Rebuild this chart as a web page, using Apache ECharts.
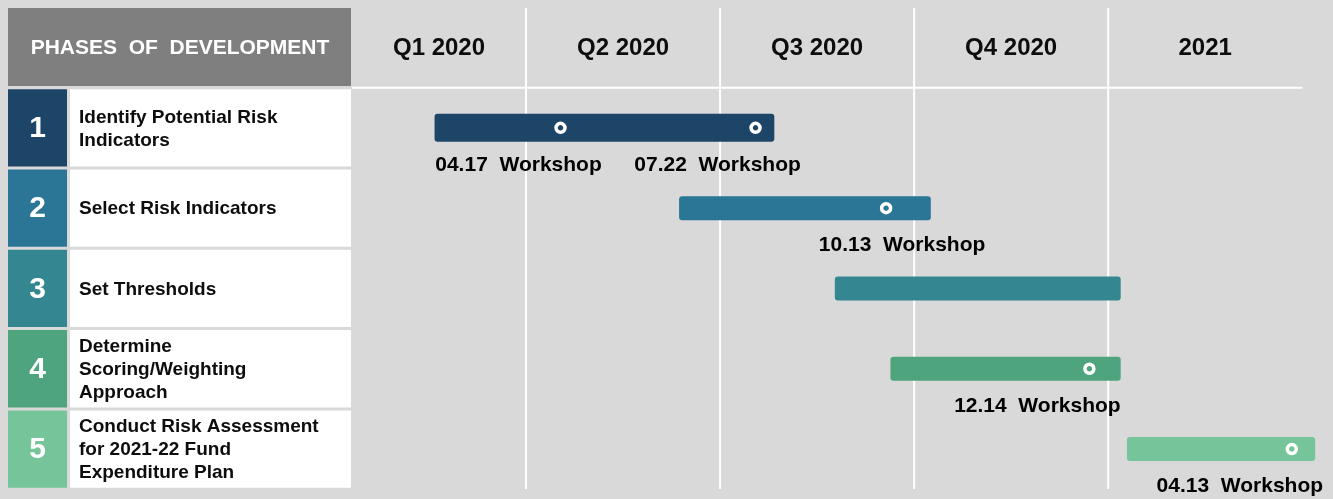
<!DOCTYPE html>
<html>
<head>
<meta charset="utf-8">
<title>Phases of Development</title>
<script src="https://cdn.jsdelivr.net/npm/echarts@6/dist/echarts.min.js"></script>
<style>
html, body { margin: 0; padding: 0; background: #d9d9d9; }
#container { width: 1333px; height: 499px; }
</style>
</head>
<body>
<div id="container"></div>
<script>
// ---- data ----
var phaseNumbers = ['1', '2', '3', '4', '5'];
var phaseNames = [
    'Identify Potential Risk\nIndicators',
    'Select Risk Indicators',
    'Set Thresholds',
    'Determine\nScoring/Weighting\nApproach',
    'Conduct Risk Assessment\nfor 2021-22 Fund\nExpenditure Plan'
];
var periodLabels = ['Q1 2020', 'Q2 2020', 'Q3 2020', 'Q4 2020', '2021'];
var periodBounds = ['2020-01-01', '2020-04-01', '2020-07-01', '2020-10-01', '2021-01-01', '2021-04-01'];
var taskStart = ['2020-02-18', '2020-06-12', '2020-08-25', '2020-09-20', '2021-01-10'];
var taskEnd = ['2020-07-27', '2020-10-09', '2021-01-07', '2021-01-07', '2021-04-07'];
var milestonePhase = [0, 0, 1, 3, 4];
var milestoneDate = ['2020-04-17', '2020-07-18', '2020-09-18', '2020-12-23', '2021-03-27'];
var milestoneText = ['04.17  Workshop', '07.22  Workshop', '10.13  Workshop', '12.14  Workshop', '04.13  Workshop'];

// ---- styling ----
var phaseColors = ['#1d4568', '#2b7697', '#348791', '#4ea47c', '#76c59a'];
var labelShift = [-42, -38, 16, -52, -52];
var FONT = '"Liberation Sans", Arial, sans-serif';

// months since Jan 2020, fractional inside a month
function toMonth(s) {
    var p = s.split('-').map(Number);
    var dim = new Date(p[0], p[1], 0).getDate();
    return (p[0] - 2020) * 12 + (p[1] - 1) + (p[2] - 1) / dim;
}

var xMin = 0.31, xMax = 15.46;
var gridTop = 87.7, gridHeight = 401.5;

var chart = echarts.init(document.getElementById('container'), null, { renderer: 'canvas' });

var option = {
    backgroundColor: '#d9d9d9',
    animation: false,
    textStyle: { fontFamily: FONT },
    grid: [
        { left: 8, width: 343, top: gridTop, height: gridHeight },
        { left: 352, right: 1, top: gridTop, height: gridHeight }
    ],
    xAxis: [
        { gridIndex: 0, type: 'value', min: 0, max: 1, show: false },
        { gridIndex: 1, type: 'value', min: xMin, max: xMax, show: false }
    ],
    yAxis: [
        { gridIndex: 0, type: 'category', data: phaseNumbers, inverse: true, show: false },
        { gridIndex: 1, type: 'category', data: phaseNumbers, inverse: true, show: false }
    ],
    graphic: [
        { type: 'rect', left: 8, top: 8, shape: { width: 343, height: 78 }, style: { fill: '#7f7f7f' } },
        {
            type: 'text', x: 180, y: 48,
            style: {
                text: 'PHASES  OF  DEVELOPMENT', fill: '#ffffff',
                font: 'bold 21px ' + FONT, textAlign: 'center', textVerticalAlign: 'middle',
                align: 'center', verticalAlign: 'middle'
            }
        }
    ],
    series: [
        // left table of phases
        {
            type: 'custom',
            xAxisIndex: 0, yAxisIndex: 0,
            encode: { x: 0, y: 1 },
            data: phaseNames.map(function (n, i) { return [0, i]; }),
            renderItem: function (params, api) {
                var i = api.value(1);
                var band = api.size([0, 1])[1];
                var a = api.coord([0, i]);
                var b = api.coord([1, i]);
                var top = a[1] - band / 2 + 1.5;
                var h = band - 3;
                return {
                    type: 'group',
                    children: [
                        { type: 'rect', shape: { x: a[0], y: top, width: 59, height: h }, style: { fill: phaseColors[i] } },
                        { type: 'rect', shape: { x: a[0] + 62, y: top, width: b[0] - a[0] - 62, height: h }, style: { fill: '#ffffff' } },
                        {
                            type: 'text', x: a[0] + 29.5, y: a[1] + 1,
                            style: {
                                text: phaseNumbers[i], fill: '#ffffff', font: 'bold 30px ' + FONT,
                                textAlign: 'center', textVerticalAlign: 'middle', align: 'center', verticalAlign: 'middle'
                            }
                        },
                        {
                            type: 'text', x: a[0] + 71, y: a[1] + 1,
                            style: {
                                text: phaseNames[i], fill: '#0d0d0d', font: 'bold 19px ' + FONT,
                                lineHeight: 23,
                                textAlign: 'left', textVerticalAlign: 'middle', align: 'left', verticalAlign: 'middle'
                            }
                        }
                    ]
                };
            }
        },
        // period headers and white grid lines
        {
            type: 'custom',
            xAxisIndex: 1, yAxisIndex: 1,
            encode: { x: [0, 2], y: 1 },
            data: periodLabels.map(function (l, i) {
                return [toMonth(periodBounds[i]), 0, toMonth(periodBounds[i + 1]), i];
            }),
            renderItem: function (params, api) {
                var i = api.value(3);
                var s = api.coord([Math.max(api.value(0), xMin), 0])[0];
                var e = api.coord([api.value(2), 0])[0];
                var kids = [
                    {
                        type: 'text', x: (s + e) / 2, y: 48,
                        style: {
                            text: periodLabels[i], fill: '#0d0d0d', font: 'bold 24px ' + FONT,
                            textAlign: 'center', textVerticalAlign: 'middle', align: 'center', verticalAlign: 'middle'
                        }
                    },
                    { type: 'line', shape: { x1: s, y1: gridTop, x2: e, y2: gridTop }, style: { stroke: '#ffffff', lineWidth: 2 } }
                ];
                if (i < periodLabels.length - 1) {
                    kids.push({ type: 'line', shape: { x1: e, y1: 8, x2: e, y2: 489 }, style: { stroke: '#ffffff', lineWidth: 2 } });
                }
                return { type: 'group', children: kids };
            }
        },
        // phase bars
        {
            type: 'custom',
            xAxisIndex: 1, yAxisIndex: 1,
            encode: { x: [0, 2], y: 1 },
            z: 3,
            data: taskStart.map(function (d, i) { return [toMonth(d), i, toMonth(taskEnd[i])]; }),
            renderItem: function (params, api) {
                var i = api.value(1);
                var s = api.coord([api.value(0), i]);
                var e = api.coord([api.value(2), i]);
                var h = i === 0 ? 28 : 24;
                return {
                    type: 'rect',
                    shape: { x: s[0], y: s[1] - h / 2, width: e[0] - s[0], height: h, r: 3 },
                    style: { fill: phaseColors[i] }
                };
            }
        },
        // workshops
        {
            type: 'scatter',
            xAxisIndex: 1, yAxisIndex: 1,
            z: 4,
            symbol: 'circle',
            symbolSize: 9,
            data: milestoneDate.map(function (d, i) {
                var p = milestonePhase[i];
                return {
                    name: milestoneText[i],
                    value: [toMonth(d), p],
                    itemStyle: { color: phaseColors[p], borderColor: '#ffffff', borderWidth: 3.5, opacity: 1 },
                    label: { offset: [labelShift[i], 37] }
                };
            }),
            label: {
                show: true,
                position: 'inside',
                formatter: '{b}',
                color: '#000000',
                textBorderWidth: 0,
                fontSize: 21,
                fontWeight: 'bold',
                fontFamily: FONT
            },
            emphasis: { disabled: true }
        }
    ]
};

chart.setOption(option);
</script>
</body>
</html>
